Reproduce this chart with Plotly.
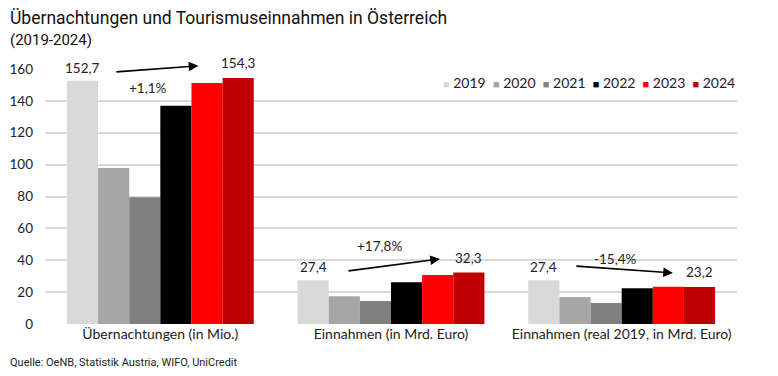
import plotly.graph_objects as go

categories = ["Übernachtungen (in Mio.)", "Einnahmen (in Mrd. Euro)", "Einnahmen (real 2019, in Mrd. Euro)"]
years = ["2019", "2020", "2021", "2022", "2023", "2024"]
v2019 = [152.7, 27.4, 27.4]
v2020 = [97.9, 17.4, 16.9]
v2021 = [79.6, 14.4, 13.2]
v2022 = [136.9, 26.2, 22.4]
v2023 = [151.2, 30.7, 23.4]
v2024 = [154.3, 32.3, 23.2]
series = [v2019, v2020, v2021, v2022, v2023, v2024]
colors = ["#d9d9d9", "#a6a6a6", "#808080", "#000000", "#ff0000", "#c00000"]

changes = ["+1,1%", "+17,8%", "-15,4%"]

def fmt(v):
    return f"{v:.1f}".replace(".", ",")

# page body has an 8px default margin; compensate so the plot area lands at 45..737 x 69..324
OFF = 8
W, H = 778, 376
ML, MT = 45 - OFF, 69 - OFF
MR = W - (737 - OFF)
MB = H - (324 - OFF)

xpos = list(range(len(categories)))
fig = go.Figure()
for y, vals, c in zip(years, series, colors):
    fig.add_trace(go.Bar(x=xpos, y=vals, name=y, marker=dict(color=c, line=dict(width=0)),
                         showlegend=False))

bargap = 0.19
bw = (1 - bargap) / len(years)
off_first = -(1 - bargap) / 2 + bw / 2
off_last = (1 - bargap) / 2 - bw / 2

lblfont = dict(family="Lato, sans-serif", size=13.5, color="#222")
for i in xpos:
    fig.add_annotation(x=i + off_first, y=v2019[i], text=fmt(v2019[i]), showarrow=False,
                       yanchor="bottom", yshift=3, font=lblfont, xref="x", yref="y")
    fig.add_annotation(x=i + off_last, y=v2024[i], text=fmt(v2024[i]), showarrow=False,
                       yanchor="bottom", yshift=5, font=lblfont, xref="x", yref="y")

# arrow tail (x,y), head (x,y), change-label position
arrows = [(-0.197, 158.1, 0.165, 162.0, -0.054, 148.0),
          (0.809, 33.2, 1.212, 40.8, 0.952, 48.9),
          (1.797, 36.4, 2.222, 32.0, 1.975, 40.8)]
for (tx, ty, hx, hy, lx, ly), ch in zip(arrows, changes):
    fig.add_annotation(x=hx, y=hy, ax=tx, ay=ty, xref="x", yref="y", axref="x", ayref="y",
                       showarrow=True, arrowhead=2, arrowsize=1.2, arrowwidth=1.6,
                       arrowcolor="#000", text="")
    fig.add_annotation(x=lx, y=ly, text=ch, showarrow=False, font=lblfont, xref="x", yref="y")

# compact legend as text
items = [f'<span style="color:{c};font-size:11px">■</span> {y}' for y, c in zip(years, colors)]
fig.add_annotation(text="  ".join(items), xref="paper", yref="paper", x=1, xanchor="right",
                   y=1, yanchor="middle", yshift=-13, showarrow=False,
                   font=dict(family="Lato, sans-serif", size=14, color="#222"))

fig.update_layout(
    width=W, height=H,
    margin=dict(l=ML, r=MR, t=MT, b=MB, autoexpand=False),
    paper_bgcolor="white", plot_bgcolor="white",
    barmode="group", bargap=bargap, bargroupgap=0,
    showlegend=False,
    xaxis=dict(tickmode="array", tickvals=xpos, ticktext=categories, range=[-0.5, 2.5],
               showgrid=False, zeroline=False, showline=False, ticks="", automargin=False,
               tickfont=dict(family="Lato, sans-serif", size=14, color="#222")),
    yaxis=dict(range=[0, 160], dtick=20, showgrid=True, gridcolor="#d9d9d9", gridwidth=1.5,
               zeroline=False, showline=False, ticks="", automargin=False, ticklabelstandoff=11,
               tickfont=dict(family="Lato, sans-serif", size=13.5, color="#222")),
    font=dict(family="Lato, sans-serif"),
)

fig.add_annotation(text="Übernachtungen und Tourismuseinnahmen in Österreich", xref="paper", yref="paper",
                   x=0, xanchor="left", xshift=8 - 45, y=1, yanchor="middle", yshift=69 - 18,
                   showarrow=False, font=dict(family="Roboto, sans-serif", size=17.5, color="#111"))
fig.add_annotation(text="(2019-2024)", xref="paper", yref="paper",
                   x=0, xanchor="left", xshift=8 - 45, y=1, yanchor="middle", yshift=69 - 40,
                   showarrow=False, font=dict(family="Roboto, sans-serif", size=15, color="#111"))
fig.add_annotation(text="Quelle: OeNB, Statistik Austria, WIFO, UniCredit", xref="paper", yref="paper",
                   x=0, xanchor="left", xshift=8 - 45, y=0, yanchor="middle", yshift=-(362 - 324),
                   showarrow=False, font=dict(family="Roboto, sans-serif", size=11, color="#222"))

fig.write_html("out.html")
